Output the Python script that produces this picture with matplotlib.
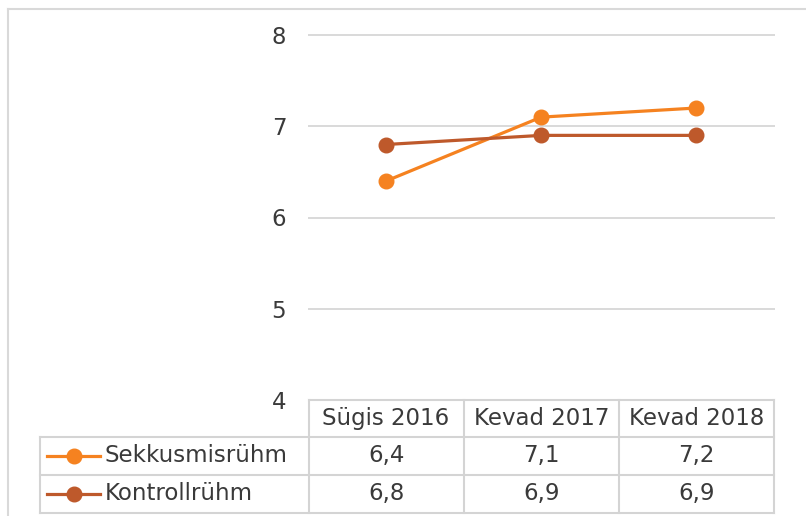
import matplotlib
matplotlib.use('Agg')
import matplotlib.pyplot as plt
from matplotlib.lines import Line2D

# chart data
categories = ['Sügis 2016', 'Kevad 2017', 'Kevad 2018']
series_names = ['Sekkusmisrühm', 'Kontrollrühm']
sekkus = [6.4, 7.1, 7.2]
kontroll = [6.8, 6.9, 6.9]
y_ticks = [4, 5, 6, 7, 8]

colors = ['#F58220', '#BE592B']
grid_col = '#D9D9D9'
text_col = '#3A3A3A'
fs = 16.5

plt.rcParams['font.family'] = ['DejaVu Sans']

W, H = 806, 516
fig = plt.figure(figsize=(W / 100, H / 100), dpi=100)

# main plot area (pixel layout)
left, right, top, bottom = 308.5, 774, 35, 400
ax = fig.add_axes([left / W, 1 - bottom / H, (right - left) / W, (bottom - top) / H])
x = list(range(len(categories)))
for vals, c in zip([sekkus, kontroll], colors):
    ax.plot(x, vals, color=c, lw=2.3, marker='o', ms=10.5, zorder=3)
ax.set_xlim(-0.5, len(categories) - 0.5)
ax.set_ylim(min(y_ticks), max(y_ticks))
ax.set_yticks(y_ticks)
ax.set_yticklabels([str(t) for t in y_ticks], fontsize=fs, color=text_col)
ax.tick_params(axis='y', length=0, pad=16)
ax.set_xticks([])
ax.grid(axis='y', color=grid_col, lw=1.4)
for gl in ax.get_ygridlines():
    gl.set_clip_on(False)
ax.set_axisbelow(True)
for s in ax.spines.values():
    s.set_visible(False)

# overlay axes in pixel coords for frame + data table
ov = fig.add_axes([0, 0, 1, 1], facecolor='none')
ov.set_xlim(0, W)
ov.set_ylim(H, 0)
ov.axis('off')

# chart frame (clipped at right/bottom)
ov.add_line(Line2D([8, W + 5], [8.5, 8.5], color=grid_col, lw=1.5))
ov.add_line(Line2D([8, 8], [8.5, H + 5], color=grid_col, lw=1.5))

# column edges from the main axes
to_px = lambda xv: ax.transData.transform((xv, 0))[0]
edges = [to_px(i - 0.5) for i in range(len(categories) + 1)]
centers = [to_px(i) for i in x]
row_y = [400, 436.5, 474.5, 512.5]
tab_left = 40
tc = '#D4D4D4'
tw = 1.5

# header row
ov.add_line(Line2D([edges[0], edges[-1]], [row_y[0], row_y[0]], color=tc, lw=tw))
for i in range(1, len(row_y)):
    ov.add_line(Line2D([tab_left, edges[-1]], [row_y[i], row_y[i]], color=tc, lw=tw))
for e in edges:
    ov.add_line(Line2D([e, e], [row_y[0], row_y[-1]], color=tc, lw=tw))
ov.add_line(Line2D([tab_left, tab_left], [row_y[1], row_y[-1]], color=tc, lw=tw))

for cx, cat in zip(centers, categories):
    ov.text(cx, (row_y[0] + row_y[1]) / 2, cat, ha='center', va='center',
            fontsize=fs, color=text_col)

for r, (name, vals, c) in enumerate(zip(series_names, [sekkus, kontroll], colors)):
    yc = (row_y[r + 1] + row_y[r + 2]) / 2
    ov.add_line(Line2D([47, 100], [yc, yc], color=c, lw=2.3))
    ov.plot([73.5], [yc], marker='o', ms=10.5, color=c)
    ov.text(105, yc, name, ha='left', va='center', fontsize=fs, color=text_col)
    for cx, v in zip(centers, vals):
        ov.text(cx, yc, f'{v:.1f}'.replace('.', ','), ha='center', va='center',
                fontsize=fs, color=text_col)

fig.savefig('out.png', dpi=100)
